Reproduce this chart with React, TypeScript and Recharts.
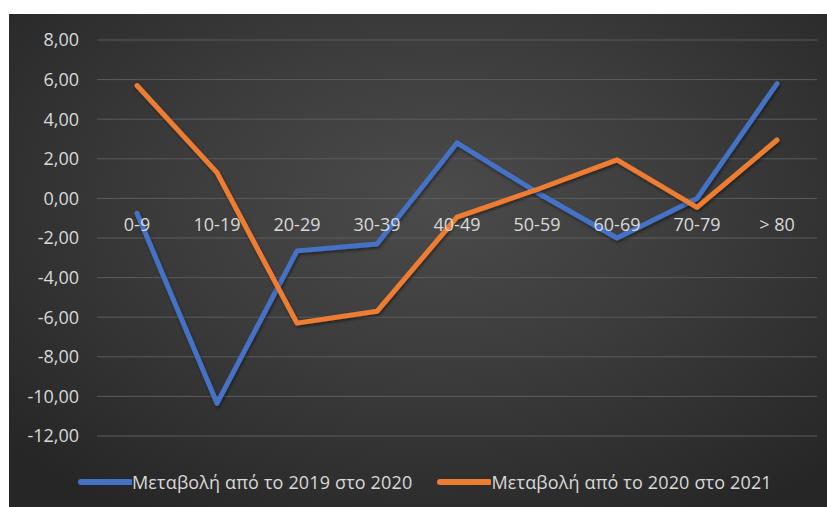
import { CartesianGrid, Line, LineChart, XAxis, YAxis } from 'recharts'

const categories = ['0-9', '10-19', '20-29', '30-39', '40-49', '50-59', '60-69', '70-79', '> 80']
const change2019to2020 = [-0.75, -10.35, -2.65, -2.3, 2.8, 0.3, -2.0, 0.0, 5.8]
const change2020to2021 = [5.7, 1.3, -6.3, -5.7, -0.95, 0.45, 1.95, -0.45, 2.95]
const yTicks = [8, 6, 4, 2, 0, -2, -4, -6, -8, -10, -12]

const SERIES = [
  { key: 'a', name: 'Μεταβολή από το 2019 στο 2020', color: '#4472C4' },
  { key: 'b', name: 'Μεταβολή από το 2020 στο 2021', color: '#ED7D31' },
]

const data = categories.map((c, i) => ({ cat: c, a: change2019to2020[i], b: change2020to2021[i] }))

const CHART_W = 818
const CHART_H = 493
const X_AXIS_H = 30
const MARGIN = { top: 26, right: 10, bottom: 41, left: 0 }
const PLOT_H = CHART_H - MARGIN.top - MARGIN.bottom - X_AXIS_H
const Y_MIN = -12
const Y_MAX = 8
// distance from the bottom of the plot up to the zero line
const ZERO_FROM_BOTTOM = (PLOT_H * (0 - Y_MIN)) / (Y_MAX - Y_MIN)

const FONT = '"Open Sans", sans-serif'
const TEXT = '#d9d9d9'
const fmt = (v: number) => v.toFixed(2).replace('.', ',')

function CategoryTick(props: any) {
  const { x, y, payload } = props
  return (
    <text x={x} y={y - ZERO_FROM_BOTTOM + 25} textAnchor="middle" fill={TEXT} fontSize={18} fontFamily={FONT}>
      {payload.value}
    </text>
  )
}

function ChartLegend() {
  return (
    <div
      style={{
        position: 'absolute',
        left: 0,
        top: 456,
        display: 'flex',
        alignItems: 'center',
        fontFamily: FONT,
        fontSize: 18,
        letterSpacing: 0.15,
        color: TEXT,
        whiteSpace: 'nowrap',
      }}
    >
      {SERIES.map((s, i) => (
        <div key={s.key} style={{ display: 'flex', alignItems: 'center', marginLeft: i === 0 ? 69 : 25 }}>
          <svg width={54} height={8}>
            <line x1={3} y1={4} x2={52} y2={4} stroke={s.color} strokeWidth={6} strokeLinecap="round" />
          </svg>
          <span>{s.name}</span>
        </div>
      ))}
    </div>
  )
}

export default function App() {
  return (
    <div style={{ position: 'absolute', left: 0, top: 0, width: 827, height: 507, background: '#fff' }}>
      <div
        style={{
          position: 'absolute',
          left: 9,
          top: 14,
          width: CHART_W,
          height: CHART_H,
          background: 'radial-gradient(ellipse 70% 75% at 52% 38%, #4b4b4b 0%, #3c3c3c 45%, #262626 100%)',
        }}
      >
        <LineChart width={CHART_W} height={CHART_H} data={data} margin={MARGIN}>
          <defs>
            <filter id="lineShadow" x="-10%" y="-10%" width="120%" height="120%">
              <feDropShadow dx="1" dy="2" stdDeviation="1.5" floodColor="#000" floodOpacity="0.45" />
            </filter>
          </defs>
          <CartesianGrid vertical={false} stroke="#5c5c5c" strokeWidth={1} />
          <XAxis
            dataKey="cat"
            scale="band"
            height={X_AXIS_H}
            axisLine={false}
            tickLine={false}
            tick={<CategoryTick />}
            interval={0}
          />
          <YAxis
            domain={[Y_MIN, Y_MAX]}
            ticks={yTicks}
            tickFormatter={fmt}
            axisLine={false}
            tickLine={false}
            tickSize={0}
            tickMargin={18}
            width={88}
            tick={{ fill: TEXT, fontSize: 18, fontFamily: FONT }}
          />
          {SERIES.map((s) => (
            <Line
              key={s.key}
              type="linear"
              dataKey={s.key}
              name={s.name}
              stroke={s.color}
              strokeWidth={5}
              dot={false}
              activeDot={false}
              strokeLinejoin="round"
              strokeLinecap="round"
              filter="url(#lineShadow)"
              isAnimationActive={false}
            />
          ))}
        </LineChart>
        <ChartLegend />
      </div>
    </div>
  )
}
